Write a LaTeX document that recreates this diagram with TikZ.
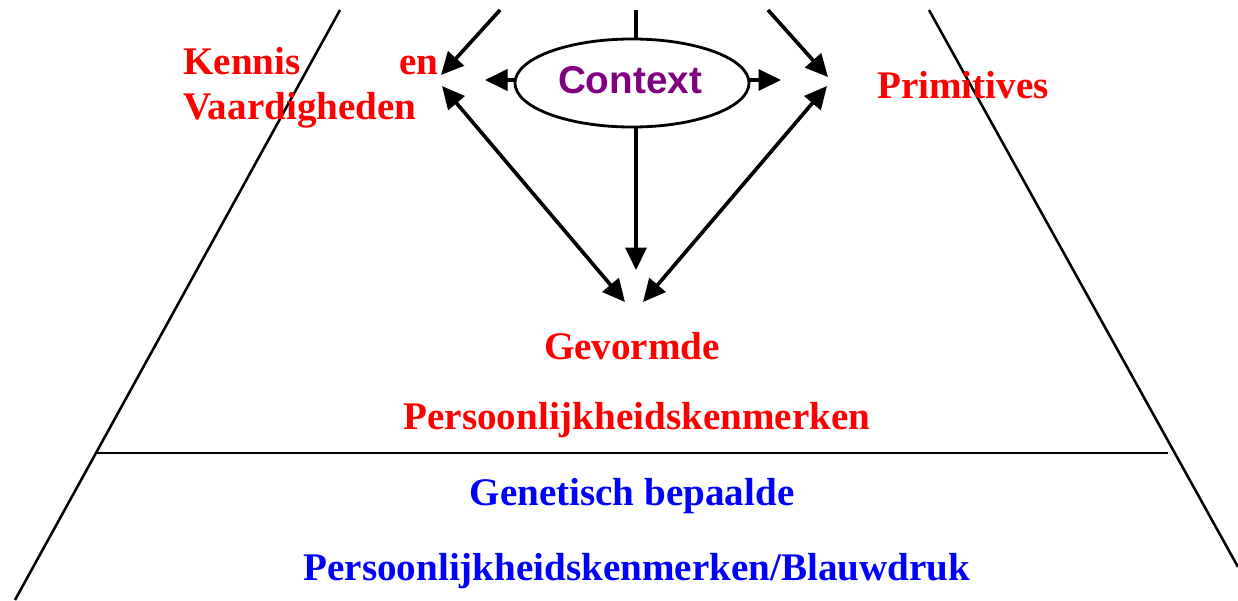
\documentclass[tikz,border=0pt]{standalone}
\usepackage{fontspec}
\setmainfont{Liberation Serif}
\newfontfamily\arialfont{Liberation Sans}
\usetikzlibrary{shapes.geometric,arrows.meta}
\definecolor{ctxpurple}{RGB}{128,0,128}
\begin{document}
\begin{tikzpicture}[x=0.025cm,y=-0.025cm,
  frame/.style={line width=1.8pt},
  arr/.style={line width=2.6pt,-{Triangle[length=16pt,width=15pt]}},
  darr/.style={line width=2.6pt,{Triangle[length=16pt,width=15pt]}-{Triangle[length=16pt,width=15pt]}},
  redtxt/.style={text=red,font=\fontsize{27.8}{32}\selectfont\bfseries,inner sep=0pt},
  bluetxt/.style={text=blue,font=\fontsize{27.8}{32}\selectfont\bfseries,inner sep=0pt}]
\useasboundingbox (0,0) rectangle (1238,600);
% pyramid frame
\coordinate (lt) at (340,10);
\coordinate (lb) at (15,600);
\coordinate (rt) at (929,10);
\coordinate (rb) at (1238,567);
\coordinate (hl) at (97,453);
\coordinate (hr) at (1168,453);
\draw[frame] (lt) -- (lb);
\draw[frame] (rt) -- (rb);
\draw[frame] (hl) -- (hr);
% context ellipse
\node[ellipse,draw,line width=2pt,minimum width=5.85cm,minimum height=2.2cm,inner sep=0pt] (ctx) at (632,83) {};
\node[text=ctxpurple,font=\arialfont\fontsize{27.5}{30}\selectfont\bfseries,inner sep=0pt] (ctxt) at (630,80) {Context};
% texts
\node[redtxt,anchor=north west,text width=6.375cm,align=left] (kv) at (183,47) {Kennis\hfill en\\Vaardigheden};
\node[redtxt] (prim) at (963,85) {Primitives};
\node[redtxt] (gev) at (632,346) {Gevormde};
\node[redtxt] (pk) at (637,420) {Persoonlijkheidskenmerken};
\node[bluetxt] (gen) at (632,496) {Genetisch bepaalde};
\node[bluetxt] (pkb) at (637,571) {Persoonlijkheidskenmerken/Blauwdruk};
% arrow endpoints
\coordinate (tl) at (500,10);
\coordinate (tc) at (636,10);
\coordinate (tr) at (768,10);
\coordinate (ctop) at (636,40);
\coordinate (cbot) at (636,127);
\coordinate (kvtop) at (441,75);
\coordinate (kvbot) at (442,86);
\coordinate (prtop) at (828,77);
\coordinate (prbot) at (827,86);
\coordinate (lefttip) at (485,80);
\coordinate (righttip) at (781,80);
\coordinate (gtl) at (625,302);
\coordinate (gtc) at (636,270);
\coordinate (gtr) at (643,302);
\coordinate (cl) at (515,80);
\coordinate (cr) at (748,80);
% arrows
\draw[arr] (tl) -- (kvtop);
\draw[arr] (tr) -- (prtop);
\draw[line width=2.6pt] (tc) -- (ctop);
\draw[arr] (cl) -- (lefttip);
\draw[arr] (cr) -- (righttip);
\draw[arr] (cbot) -- (gtc);
\draw[darr] (kvbot) -- (gtl);
\draw[darr] (prbot) -- (gtr);
\end{tikzpicture}
\end{document}
